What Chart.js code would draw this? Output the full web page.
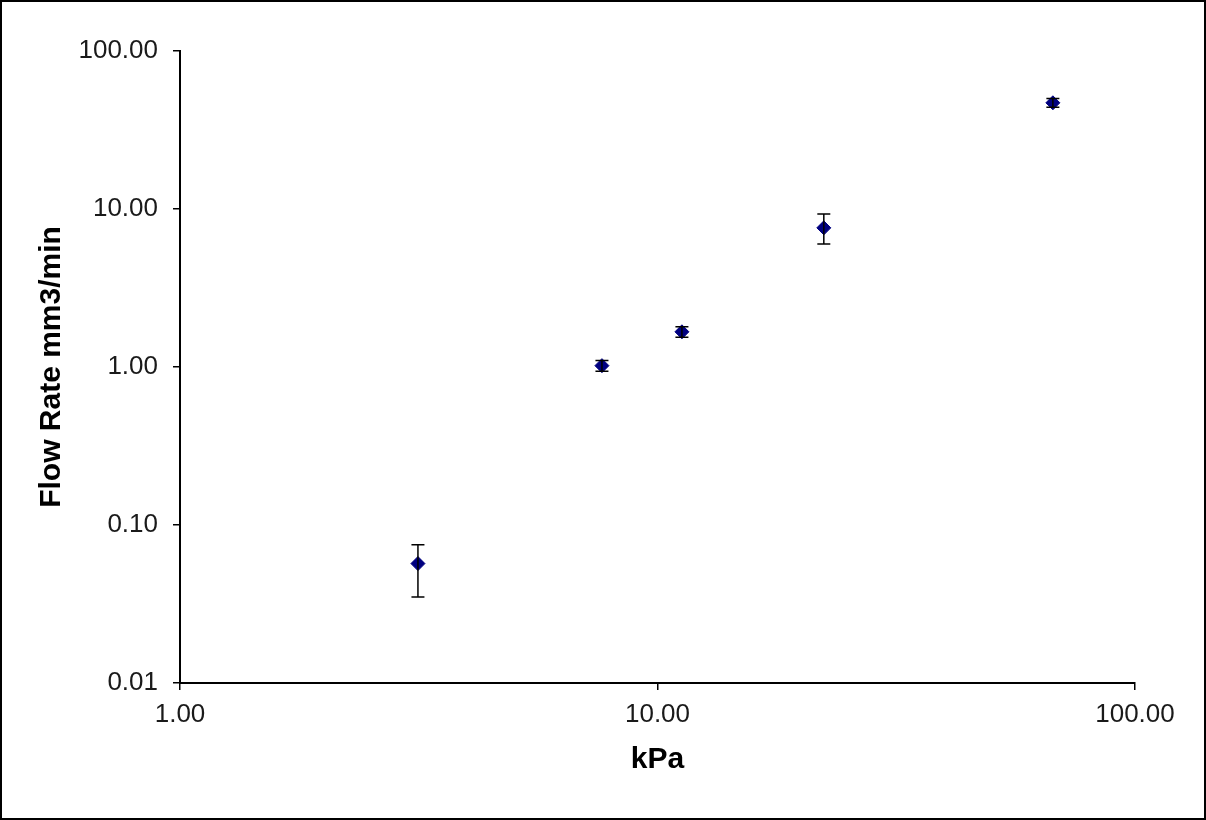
<!DOCTYPE html>
<html>
<head>
<meta charset="utf-8">
<script src="https://cdn.jsdelivr.net/npm/chart.js@4/dist/chart.umd.min.js"></script>
<style>
  html, body { margin: 0; padding: 0; background: #fff; }
  #wrap { width: 1206px; height: 820px; position: relative; }
</style>
</head>
<body>
<div id="wrap"><canvas id="flow-chart"></canvas></div>
<script>
// values
const pressureKPa = [3.15, 7.65, 11.25, 22.3, 67.3];
const flowRate = [0.057, 1.02, 1.67, 7.6, 47.0];
const flowLow = [0.035, 0.94, 1.54, 6.0, 44.0];
const flowHigh = [0.075, 1.10, 1.80, 9.3, 50.0];
const xTickValues = [1, 10, 100];
const yTickValues = [0.01, 0.1, 1, 10, 100];

const points = pressureKPa.map((x, i) => ({x: x, y: flowRate[i]}));

const errorBars = {
    id: 'errorBars',
    afterDatasetsDraw(chart) {
        const ctx = chart.ctx;
        const xs = chart.scales.x, ys = chart.scales.y;
        ctx.save();
        ctx.strokeStyle = '#000';
        ctx.lineWidth = 1.5;
        pressureKPa.forEach((p, i) => {
            const px = xs.getPixelForValue(p);
            const top = ys.getPixelForValue(flowHigh[i]);
            const bot = ys.getPixelForValue(flowLow[i]);
            ctx.beginPath();
            ctx.moveTo(px, top); ctx.lineTo(px, bot);
            ctx.moveTo(px - 6.5, top); ctx.lineTo(px + 6.5, top);
            ctx.moveTo(px - 6.5, bot); ctx.lineTo(px + 6.5, bot);
            ctx.stroke();
        });
        ctx.restore();
    },
    afterDraw(chart) {
        // outer frame round the whole picture
        const ctx = chart.ctx;
        ctx.save();
        ctx.strokeStyle = '#000';
        ctx.lineWidth = 2;
        ctx.strokeRect(1, 1, chart.width - 2, chart.height - 2);
        ctx.restore();
    }
};

function decadeLabel(value) {
    return Number(value).toFixed(2);
}

const tickFont = {family: 'Arial, "Liberation Sans", sans-serif', size: 26};
const titleFont = {family: 'Arial, "Liberation Sans", sans-serif', size: 30, weight: 'bold'};

new Chart(document.getElementById('flow-chart'), {
    type: 'scatter',
    data: {
        datasets: [{
            data: points,
            pointStyle: 'rectRot',
            pointRadius: 7,
            pointHoverRadius: 7,
            backgroundColor: '#000080',
            borderColor: '#000080',
            borderWidth: 1
        }]
    },
    plugins: [errorBars],
    options: {
        responsive: true,
        maintainAspectRatio: false,
        animation: false,
        layout: {padding: {top: 51, right: 71, bottom: 0, left: 0}},
        plugins: {legend: {display: false}, tooltip: {enabled: false}},
        scales: {
            x: {
                type: 'logarithmic',
                min: 1,
                max: 100,
                afterBuildTicks: (scale) => { scale.ticks = xTickValues.map(v => ({value: v})); },
                afterFit: (scale) => { scale.height = 137; },
                grid: {drawOnChartArea: false, tickLength: 7, color: '#000', lineWidth: 1.5},
                border: {color: '#000', width: 2},
                ticks: {callback: decadeLabel, color: '#1a1a1a', font: tickFont, padding: 9, maxRotation: 0, autoSkip: false},
                title: {display: true, text: 'kPa', color: '#000', font: titleFont, padding: {top: 42, bottom: 42}}
            },
            y: {
                type: 'logarithmic',
                min: 0.01,
                max: 100,
                afterBuildTicks: (scale) => { scale.ticks = yTickValues.map(v => ({value: v})); },
                afterFit: (scale) => { scale.width = 180; },
                grid: {drawOnChartArea: false, tickLength: 7, color: '#000', lineWidth: 1.5},
                border: {color: '#000', width: 2},
                ticks: {callback: decadeLabel, color: '#1a1a1a', font: tickFont, padding: 15, autoSkip: false},
                title: {display: true, text: 'Flow Rate mm3/min', color: '#000', font: titleFont, padding: {top: 34, bottom: 34}}
            }
        }
    }
});
</script>
</body>
</html>
